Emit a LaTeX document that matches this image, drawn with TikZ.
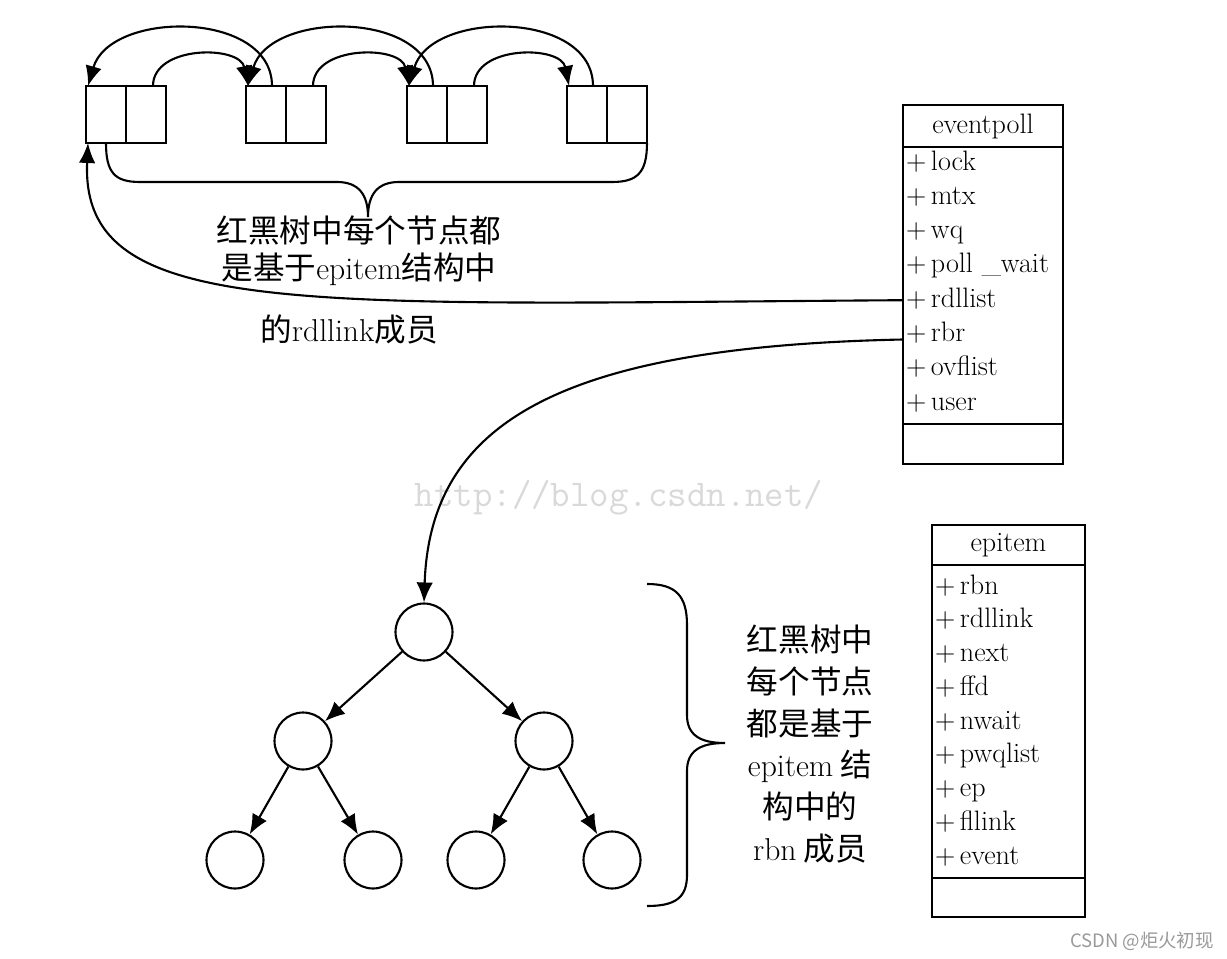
\documentclass[tikz,border=0pt]{standalone}
\usepackage{fontspec}
\newfontfamily\cjk{Noto Sans CJK SC}
\usetikzlibrary{arrows.meta,positioning}

\begin{document}
\begin{tikzpicture}[x=0.02cm, y=-0.02cm, line width=1.2pt,
  >={Latex[length=4mm,width=3.3mm]},
  every node/.style={font=\fontsize{16}{19}\selectfont},
  cell/.style={draw, minimum width=0.8cm, minimum height=1.14cm, inner sep=0pt, outer sep=0pt},
  tnode/.style={draw, circle, minimum size=1.14cm, inner sep=0pt},
  box/.style={draw, inner sep=0pt, outer sep=0pt},
  field/.style={anchor=west, inner xsep=0.04cm, inner ysep=0pt, text height=11pt, text depth=3pt},
  note/.style={align=center, font=\cjk\fontsize{18}{21}\selectfont}]
  \useasboundingbox (0,0) rectangle (1227,959);

  % watermarks
  \node[text=gray!30, font=\ttfamily\fontsize{21.5}{24}\selectfont] (watermark) at (619,498) {http://blog.csdn.net/};
  \node[text=gray!80, font=\cjk\fontsize{10.5}{12}\selectfont] (csdn) at (1142,941) {CSDN @炬火初现};

  % rdllist: doubly linked list
  \foreach \i/\x in {1/106, 2/266, 3/427, 4/587} {
    \node[cell] (c\i-a) at (\x,114.5) {};
    \node[cell, right=0pt of c\i-a] (c\i-b) {};
  }
  \foreach \i/\j in {1/2, 2/3, 3/4} {
    \draw[->] ([xshift=0.14cm]c\i-b.north) .. controls +(0,-41) and +(-8,-41) .. ([xshift=0.04cm]c\j-a.north west);
    \draw[->] ([xshift=0.12cm]c\j-a.north) .. controls +(0,-76) and +(22,-76) .. ([xshift=0.04cm]c\i-a.north west);
  }
  \draw (c1-a.south) .. controls +(0,30) and +(-25,0) .. (140,182) -- (337,182)
    .. controls +(22,0) and +(0,-22) .. (368,217)
    .. controls +(0,-22) and +(-22,0) .. (399,182) -- (612,182)
    .. controls +(25,0) and +(0,30) .. (c4-b.south east);

  \node[note] (rdlnote) at (359,251) {红黑树中每个节点都\\是基于{\rmfamily epitem}结构中};
  \node[note] (rdlnote-b) at (349,330) {的{\rmfamily rdllink}成员};

  % eventpoll
  \node[box, minimum width=3.2cm, minimum height=0.84cm] (eventpoll) at (983,126) {eventpoll};
  \node[box, minimum width=3.2cm, minimum height=5.54cm, below=0pt of eventpoll] (eventpoll-body) {};
  \node[box, minimum width=3.2cm, minimum height=0.8cm, below=0pt of eventpoll-body] (eventpoll-foot) {};
  \foreach \n/\t [count=\i] in {lock/lock, mtx/mtx, wq/wq, pollwait/poll \_wait, rdllist/rdllist, rbr/rbr, ovflist/ovflist, user/user}
    \node[field] (evp-\n) at (903,{163+34.3*(\i-1)}) {+\,\t};

  % epitem
  \node[box, minimum width=3.06cm, minimum height=0.8cm] (epitem) at (1008.5,545) {epitem};
  \node[box, minimum width=3.06cm, minimum height=6.26cm, below=0pt of epitem] (epitem-body) {};
  \node[box, minimum width=3.06cm, minimum height=0.78cm, below=0pt of epitem-body] (epitem-foot) {};
  \foreach \n [count=\i] in {rbn, rdllink, next, ffd, nwait, pwqlist, ep, fllink, event}
    \node[field] (epi-\n) at (932,{587+33.75*(\i-1)}) {+\,\n};

  % red-black tree
  \node[tnode] (root) at (424,632) {};
  \node[tnode] (l) at (303,741) {};
  \node[tnode] (r) at (544,741) {};
  \node[tnode] (ll) at (235,860) {};
  \node[tnode] (lr) at (373,860) {};
  \node[tnode] (rl) at (476,860) {};
  \node[tnode] (rr) at (612,860) {};
  \draw[->] (root) -- (l);
  \draw[->] (root) -- (r);
  \draw[->] (l) -- (ll);
  \draw[->] (l) -- (lr);
  \draw[->] (r) -- (rl);
  \draw[->] (r) -- (rr);

  \draw (647,584) .. controls +(28,0) and +(0,-30) .. (687,625) -- (687,715)
    .. controls +(0,20) and +(-25,0) .. (725,743)
    .. controls +(-25,0) and +(0,-20) .. (687,771) -- (687,875)
    .. controls +(0,23) and +(28,0) .. (647,906);
  \node[note, font=\cjk\fontsize{18}{23.7}\selectfont] (rbnnote) at (810,744)
    {红黑树中\\每个节点\\都是基于\\{\rmfamily epitem} 结\\构中的\\{\rmfamily rbn} 成员};

  % connectors from eventpoll
  \draw[->] (evp-rdllist.west) .. controls +(-603,4) and +(-8,177) .. ([xshift=0.04cm]c1-a.south west);
  \draw[->] ([yshift=-0.1cm]evp-rbr.west) .. controls +(-343,7) and +(6,-180) .. (root.north);
\end{tikzpicture}
\end{document}
